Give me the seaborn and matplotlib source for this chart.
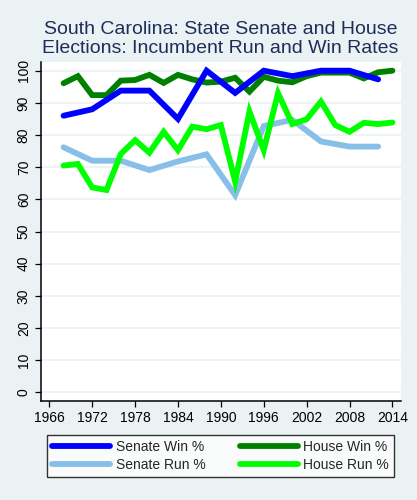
import matplotlib
matplotlib.use("Agg")
import matplotlib.pyplot as plt
import numpy as np
import pandas as pd
import seaborn as sns

# election years
senate_years = [1968, 1972, 1976, 1980, 1984, 1988, 1992, 1996, 2000, 2004, 2008, 2012]
house_years = list(range(1968, 2015, 2))

# values
senate_win = [86.0, 88.0, 93.8, 93.8, 85.0, 100.0, 93.1, 100.0, 98.3, 100.0, 100.0, 97.3]
senate_run = [76.2, 72.0, 72.0, 69.1, 71.8, 74.0, 61.3, 82.8, 84.7, 78.0, 76.4, 76.4]
house_win = [96.1, 98.3, 92.4, 92.4, 96.9, 97.1, 98.7, 96.2, 98.7, 97.3, 96.3, 96.6,
             97.8, 93.5, 98.1, 96.9, 96.4, 98.3, 99.4, 99.4, 99.4, 97.6, 99.5, 100.0]
house_run = [70.5, 71.0, 63.7, 62.9, 74.1, 78.4, 74.5, 81.0, 75.3, 82.6, 81.8, 83.1,
             65.5, 87.3, 75.3, 93.0, 83.4, 84.9, 90.4, 83.1, 81.0, 83.8, 83.4, 83.9]

series_names = ["Senate Win %", "Senate Run %", "House Win %", "House Run %"]
series_colors = ["#0000FF", "#87BFE8", "#007F00", "#00FF00"]

frames = [
    pd.DataFrame({"year": senate_years, "pct": senate_win, "series": "Senate Win %"}),
    pd.DataFrame({"year": senate_years, "pct": senate_run, "series": "Senate Run %"}),
    pd.DataFrame({"year": house_years, "pct": house_win, "series": "House Win %"}),
    pd.DataFrame({"year": house_years, "pct": house_run, "series": "House Run %"}),
]
df = pd.concat(frames, ignore_index=True)

bg = "#EAF2F3"
sns.set_style("white")
plt.rcParams["font.family"] = ["Liberation Sans", "DejaVu Sans"]

fig = plt.figure(figsize=(4.17, 5.0), dpi=100, facecolor=bg)
ax = fig.add_axes([40.5 / 417, 1 - 400.7 / 500, (401 - 40.5) / 417, (400.7 - 62) / 500])
ax.set_facecolor("white")

# draw order: run lines underneath, win lines on top
draw_order = ["Senate Run %", "House Run %", "House Win %", "Senate Win %"]
palette = dict(zip(series_names, series_colors))
for name in draw_order:
    sub = df[df["series"] == name]
    sns.lineplot(data=sub, x="year", y="pct", color=palette[name], lw=4.2,
                 ax=ax, label=name, solid_capstyle="round", solid_joinstyle="miter")

ax.set_xlim(1964.77, 2015.2)
ax.set_ylim(-2.6, 102.7)
ax.set_xticks(range(1966, 2015, 6))
ax.set_yticks(range(0, 101, 10))
ax.set_xlabel("")
ax.set_ylabel("")
ax.yaxis.grid(True, color=bg, lw=1.2)
ax.set_axisbelow(True)
for side in ["top", "right"]:
    ax.spines[side].set_visible(False)
for side in ["left", "bottom"]:
    ax.spines[side].set_color("black")
    ax.spines[side].set_linewidth(1.1)
ax.tick_params(axis="both", direction="out", length=4, width=0.9, color="black",
               labelsize=10, labelcolor="black", left=True, bottom=True)
ax.tick_params(axis="y", pad=3)
for lbl in ax.get_yticklabels():
    lbl.set_rotation(90)
    lbl.set_va("center")

title_color = "#1E2D5C"
fig.text(221 / 417, 1 - 34 / 500, "South Carolina: State Senate and House",
         ha="center", va="baseline", fontsize=14, color=title_color)
fig.text(220.5 / 417, 1 - 53 / 500, "Elections: Incumbent Run and Win Rates",
         ha="center", va="baseline", fontsize=14, color=title_color)

ax.get_legend().remove()
handles = {h.get_label(): h for h in ax.get_lines() if h.get_label() in series_names}
legend_order = ["Senate Win %", "Senate Run %", "House Win %", "House Run %"]
leg = fig.legend([handles[n] for n in legend_order], legend_order, ncol=2,
                 loc="center", mode="expand",
                 bbox_to_anchor=(47 / 417, 1 - 479 / 500, 347 / 417, 46 / 500),
                 fontsize=10, handlelength=4.2, frameon=True, fancybox=False,
                 borderpad=0.35, labelspacing=0.3, handletextpad=0.4,
                 borderaxespad=0)
leg.get_frame().set_edgecolor("black")
leg.get_frame().set_linewidth(1.0)
leg.get_frame().set_facecolor("white")

fig.savefig("out.png", dpi=100, facecolor=bg)
